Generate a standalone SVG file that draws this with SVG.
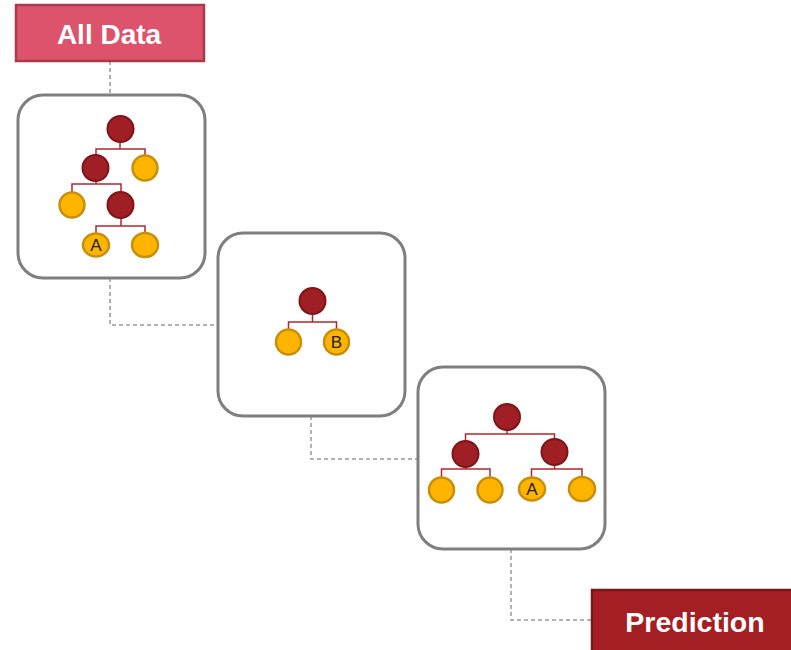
<svg xmlns="http://www.w3.org/2000/svg" width="791" height="650" viewBox="0 0 791 650">
<style>
.panel{fill:#fff;stroke:#7f7f7f;stroke-width:3}
.dash{fill:none;stroke:#999;stroke-width:1.5;stroke-dasharray:4 3}
.br{fill:none;stroke:#b0282e;stroke-width:1.5}
.dk{fill:#a01f24;stroke:#7d1519;stroke-width:2}
.yl{fill:#ffb400;stroke:#c8900a;stroke-width:2.5}
.lbl{font-family:"Liberation Sans",Arial,sans-serif;font-size:17px;fill:#222;text-anchor:middle}
.title{font-family:"Liberation Sans",Arial,sans-serif;font-weight:bold;fill:#fff;text-anchor:middle}
</style>
<g id="connectors">
<path class="dash" d="M110,61 V95"/>
<path class="dash" d="M110,278 V325 H218"/>
<path class="dash" d="M311,416 V459 H418"/>
<path class="dash" d="M511,549 V620 H592"/>
</g>
<g id="all-data">
<rect x="16" y="5" width="188" height="56" fill="#dc536b" stroke="#a83a4e" stroke-width="2.5"/>
<text class="title" x="109" y="44" font-size="28">All Data</text>
</g>
<g id="tree1">
<rect class="panel" x="18" y="95" width="187" height="183" rx="25"/>
<path class="br" d="M120,142 V149 M96,155 V149 H145 V155 M96,181 V184 H72 V192 M96,184 H121 V192 M121,218 V226 M96,233 V226 H145 V233"/>
<circle class="dk" cx="120.5" cy="129" r="13"/>
<circle class="dk" cx="95.5" cy="168" r="13"/>
<circle class="yl" cx="145" cy="168" r="12.5"/>
<circle class="yl" cx="72" cy="205" r="12.5"/>
<circle class="dk" cx="120.5" cy="205" r="13"/>
<ellipse class="yl" cx="96" cy="245" rx="13" ry="11.5"/>
<text class="lbl" x="96" y="251">A</text>
<ellipse class="yl" cx="145" cy="245" rx="13" ry="12"/>
</g>
<g id="tree2">
<rect class="panel" x="218" y="233" width="187" height="183" rx="25"/>
<path class="br" d="M312.5,314 V322 M288.5,330 V322 H336.5 V330"/>
<circle class="dk" cx="312.5" cy="301" r="13"/>
<circle class="yl" cx="288.5" cy="342" r="12.5"/>
<circle class="yl" cx="336.5" cy="342" r="12.5"/>
<text class="lbl" x="336.5" y="348">B</text>
</g>
<g id="tree3">
<rect class="panel" x="418" y="367" width="187" height="182" rx="25"/>
<path class="br" d="M507,430 V434 M465.5,441 V434 H554.5 V441 M465.5,466 V469 H441.5 V478 M465.5,469 H490 V478 M554.5,465 V469 H531.5 V477 M554.5,469 H582 V477"/>
<circle class="dk" cx="507" cy="417" r="13"/>
<circle class="dk" cx="465.5" cy="454" r="13"/>
<circle class="dk" cx="554.5" cy="452" r="13"/>
<circle class="yl" cx="441.5" cy="490" r="12.5"/>
<circle class="yl" cx="490" cy="490" r="12.5"/>
<ellipse class="yl" cx="532" cy="489" rx="13" ry="11.5"/>
<text class="lbl" x="532" y="495">A</text>
<ellipse class="yl" cx="582" cy="489" rx="13" ry="12"/>
</g>
<g id="prediction">
<rect x="592" y="590" width="205" height="66" fill="#a31f24" stroke="#7d1519" stroke-width="2.5"/>
<text class="title" x="695" y="632" font-size="28.5">Prediction</text>
</g>
</svg>
